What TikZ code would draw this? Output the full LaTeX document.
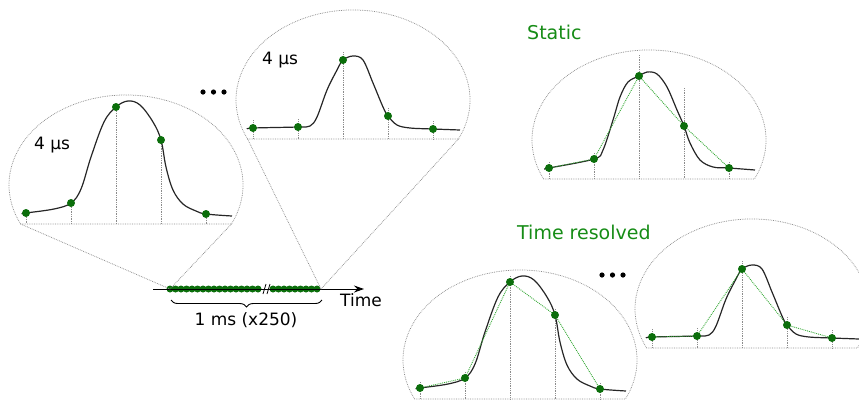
\documentclass[tikz,border=0pt]{standalone}
\usepackage{fontspec}
\setmainfont{DejaVu Sans}
\usetikzlibrary{arrows.meta,decorations.pathreplacing}
\definecolor{sample}{HTML}{0B6E0B}
\definecolor{titlegreen}{HTML}{168C16}
\definecolor{interp}{HTML}{35A835}
\definecolor{guide}{HTML}{8C8C8C}
\tikzset{
  bubble/.style={draw=guide,densely dotted,line width=0.75pt},
  guideline/.style={draw=guide,densely dotted,line width=0.75pt},
  pulse/.style={draw=black!85,line width=1.2pt},
  interpline/.style={draw=interp,densely dotted,line width=0.9pt},
  sampledot/.style={fill=sample},
  axisline/.style={-{Stealth[length=10pt,width=7pt]},line width=1pt},
  caption/.style={font=\fontsize{17}{20}\selectfont,inner sep=0pt},
  heading/.style={font=\fontsize{19}{22}\selectfont,text=titlegreen,inner sep=0pt,anchor=west}
}
% outline of one zoom bubble, #1 names its two base corners
\newcommand{\bubbleoutline}[1]{%
  \draw[bubble] (-105.4,39) coordinate (#1l)
    arc[start angle=154.3,end angle=385.7,x radius=117,y radius=90]
    coordinate (#1r) -- cycle;}
\newcommand{\widepulse}{%
  \draw[pulse] plot[smooth,tension=0.6] coordinates {(-104,29) (-100,28) (-72,24) (-55,18)
    (-45,4) (-35,-28) (-22,-63) (-10,-78) (2,-84) (14,-80) (27,-63) (35,-45) (40,-18)
    (47,5) (57,19) (70,26) (80,29) (106,31)};}
\newcommand{\narrowpulse}{%
  \draw[pulse] plot[smooth,tension=0.55] coordinates {(-105,29) (-100,28) (-55,27) (-43,26)
    (-36,17) (-26,-10) (-16,-30) (-10,-40) (0,-44) (10,-40) (20,-17) (30,7) (35,16)
    (44,25) (57,28) (80,29) (107,30)};}

\begin{document}
\begin{tikzpicture}[x=1pt,y=-1pt]
\useasboundingbox (0,0) rectangle (859,400);
\clip (0,0) rectangle (859,400);

% time axis with the train of samples
\coordinate (axisstart) at (153,289);
\coordinate (axisend) at (364,289);
\coordinate (trainL) at (170,289);
\coordinate (trainR) at (321,289);
\foreach \x in {170,175.5,...,262} \fill[sampledot] (\x,289) circle[radius=3.5];
\foreach \x in {273,278.5,...,322} \fill[sampledot] (\x,289) circle[radius=3.5];
\draw[axisline] (axisstart) -- (axisend);
\draw[line width=0.8pt] (263,294) -- (266,284) (267,294) -- (270,284);
\draw[line width=0.9pt,decorate,decoration={brace,mirror,amplitude=7pt}] (171,300) -- (322,300);
\node[caption] (span) at (246,320) {1 ms (x250)};
\node[caption,anchor=west] (timelabel) at (340,300) {Time};

% first zoomed sample
\begin{scope}[shift={(126,185)}]
\bubbleoutline{za}
\foreach \x/\y in {-100/28,-55/18,-10/-78,35/-45,80/29}
  \draw[guideline] (\x,\y-3) -- (\x,39);
\widepulse
\foreach \x/\y in {-100/28,-55/18,-10/-78,35/-45,80/29}
  \fill[sampledot] (\x,\y) circle[radius=4];
\end{scope}
\node[caption] (durA) at (52,145) {4 μs};

% second zoomed sample
\begin{scope}[shift={(353,100)}]
\bubbleoutline{zb}
\foreach \x/\y in {-100/28,-55/27,-10/-40,35/16,80/29}
  \draw[guideline] (\x,\y-8) -- (\x,39);
\narrowpulse
\foreach \x/\y in {-100/28,-55/27,-10/-40,35/16,80/29}
  \fill[sampledot] (\x,\y) circle[radius=4];
\end{scope}
\node[caption] (durB) at (280,60) {4 μs};

\foreach \x in {203,213.5,224} \fill (\x,92) circle[radius=2.6];

% zoom lines down to the train
\draw[guideline] (zal) -- (trainL);
\draw[guideline] (zar) -- (trainL);
\draw[guideline] (zbl) -- (trainR);
\draw[guideline] (zbr) -- (trainR);

% static
\node[heading] (static) at (527,32) {Static};
\begin{scope}[shift={(649,140)}]
\bubbleoutline{st}
\foreach \x/\y in {-100/22,-55/13,-10/-85,35/-52,80/22}
  \draw[guideline] (\x,\y) -- (\x,39);
\draw[pulse] plot[smooth,tension=0.55] coordinates {(-104,29) (-100,28) (-55,19) (-46,10)
  (-36,-20) (-29,-43) (-21,-58) (-10,-64) (-2,-68) (8,-66) (18,-53) (28,-30) (35,-14)
  (41,3) (51,20) (64,27) (80,28) (106,30)};
\draw[interpline] (-100,28) -- (-55,19) -- (-10,-64) -- (35,-14) -- (80,28);
\foreach \x/\y in {-100/28,-55/19,-10/-64,35/-14,80/28}
  \fill[sampledot] (\x,\y) circle[radius=4];
\end{scope}

% time resolved
\node[heading] (resolved) at (517,232) {Time resolved};
\begin{scope}[shift={(520,360)}]
\bubbleoutline{ta}
\foreach \x/\y in {-100/28,-55/18,-10/-78,35/-45,80/29}
  \draw[guideline] (\x,\y-6) -- (\x,39);
\widepulse
\draw[interpline] (-100,28) -- (-55,18) -- (-10,-78) -- (35,-45) -- (80,29);
\foreach \x/\y in {-100/28,-55/18,-10/-78,35/-45,80/29}
  \fill[sampledot] (\x,\y) circle[radius=4];
\end{scope}

\foreach \x in {602,612.5,623} \fill (\x,275) circle[radius=2.6];

\begin{scope}[shift={(752,309)}]
\bubbleoutline{tb}
\foreach \x/\y in {-100/28,-55/27,-10/-40,35/16,80/29}
  \draw[guideline] (\x,\y-8) -- (\x,39);
\narrowpulse
\draw[interpline] (-100,28) -- (-55,27) -- (-10,-40) -- (35,16) -- (80,29);
\foreach \x/\y in {-100/28,-55/27,-10/-40,35/16,80/29}
  \fill[sampledot] (\x,\y) circle[radius=4];
\end{scope}
\end{tikzpicture}
\end{document}
